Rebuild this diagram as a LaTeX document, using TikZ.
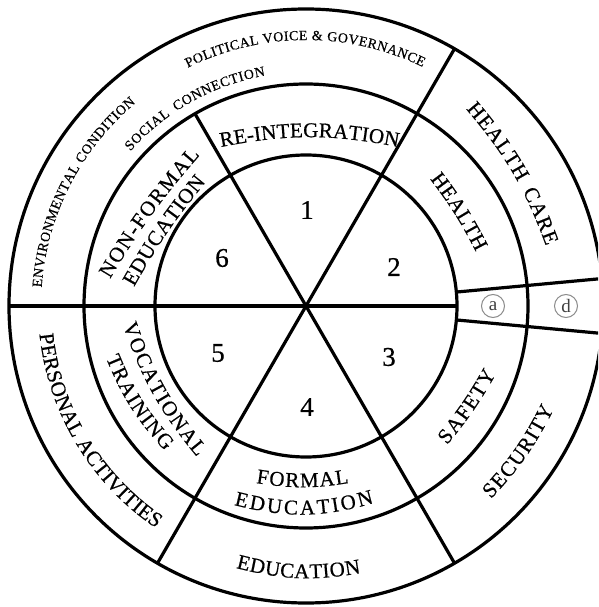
\documentclass[tikz,border=0pt]{standalone}
\usepackage{fontspec}
\setmainfont{Liberation Serif}
\newfontfamily\heavyserif[FakeBold=0.6]{Liberation Serif}
\usetikzlibrary{decorations.text}
\newcommand\lblfont{\heavyserif\fontsize{21}{24}\selectfont}
\newcommand\smlfont{\heavyserif\fontsize{14}{16}\selectfont}
\newcommand\numfont{\heavyserif\fontsize{27}{30}\selectfont}
\tikzset{
  ringline/.style={line width=3.2pt},
  curvedlabel/.style={decorate, decoration={text along path, text align={fit to path}, text={#1}}},
  numlabel/.style={font=\numfont, inner sep=0pt},
  circletter/.style={circle, draw=black!45, line width=1pt, minimum size=23pt, inner sep=0pt,
    font=\fontsize{19}{20}\selectfont, text=black!75},
}
\begin{document}
\begin{tikzpicture}[x=1pt,y=1pt]
\useasboundingbox (-306,-301) rectangle (292,306);
\clip (-306,-301) rectangle (292,306);
\fill[white] (-306,-301) rectangle (292,306);
% rings
\draw[ringline] (0,0) circle[radius=151pt];
\draw[ringline] (0,0) circle[radius=222pt];
\draw[ringline] (0,0) circle[radius=297pt];
% spokes
\draw[ringline] (0,0) -- (0:151pt);
\draw[ringline] (0,0) -- (60:297pt);
\draw[ringline] (0,0) -- (120:222pt);
\draw[ringline] (0,0) -- (180:297pt);
\draw[ringline] (0,0) -- (240:297pt);
\draw[ringline] (0,0) -- (300:297pt);
\draw[ringline] (5.3:151pt) -- (5.3:297pt);
\draw[ringline] (-5.3:151pt) -- (-5.3:297pt);
% numbers
\node[numlabel] (n1) at (1,96) {1};
\node[numlabel] (n2) at (88,39) {2};
\node[numlabel] (n3) at (83,-51) {3};
\node[numlabel] (n4) at (1,-101) {4};
\node[numlabel] (n5) at (-88,-47) {5};
\node[numlabel] (n6) at (-84,48) {6};
% circled letters
\node[circletter] (ca) at (187,0) {a};
\node[circletter] (cd) at (260,0) {d};
% middle ring labels
\path[curvedlabel={|\lblfont|RE-INTEGRATION}] (-85,159) to[bend left=11] (92,159);
\path[curvedlabel={|\lblfont|NON-FORMAL}] (-196,27) to[bend left=5] (-106,151);
\path[curvedlabel={|\lblfont|EDUCATION}] (-172,19) to[bend left=5] (-100,124);
\path[curvedlabel={|\lblfont|HEALTH}] (124,127) to[bend left=5] (170,54);
\path[curvedlabel={|\lblfont|SAFETY}] (141,-139) to[bend right=5] (190,-68);
\path[curvedlabel={|\lblfont|FORMAL}] (-50,-177) to[bend right=9] (43,-177);
\path[curvedlabel={|\lblfont|EDUCATION}] (-72,-199) to[bend right=15] (68,-197);
\path[curvedlabel={|\lblfont|VOCATIONAL}] (-183,-19) to[bend right=10] (-109,-151);
\path[curvedlabel={|\lblfont|TRAINING}] (-200,-52) to[bend right=10] (-141,-145);
% outer ring labels
\path[curvedlabel={|\lblfont|HEALTH{\kern8pt}CARE}] (160,197) to[bend left=10] (240,60);
\path[curvedlabel={|\lblfont|SECURITY}] (185,-193) to[bend right=8] (248,-103);
\path[curvedlabel={|\lblfont|EDUCATION}] (-70,-262) to[bend right=12] (55,-267);
\path[curvedlabel={|\lblfont|PERSONAL ACTIVITIES}] (-174:268pt) arc[start angle=-174, end angle=-124, radius=268pt];
\path[curvedlabel={|\smlfont|ENVIRONMENTAL CONDITION}] (176:265pt) arc[start angle=176, end angle=130, radius=265pt];
\path[curvedlabel={|\smlfont|SOCIAL{\kern6pt}CONNECTION}] (138.6:234pt) arc[start angle=138.6, end angle=100, radius=234pt];
\path[curvedlabel={|\smlfont|POLITICAL VOICE {\&} GOVERNANCE}] (116.4:266pt) arc[start angle=116.4, end angle=64, radius=266pt];
\end{tikzpicture}
\end{document}
